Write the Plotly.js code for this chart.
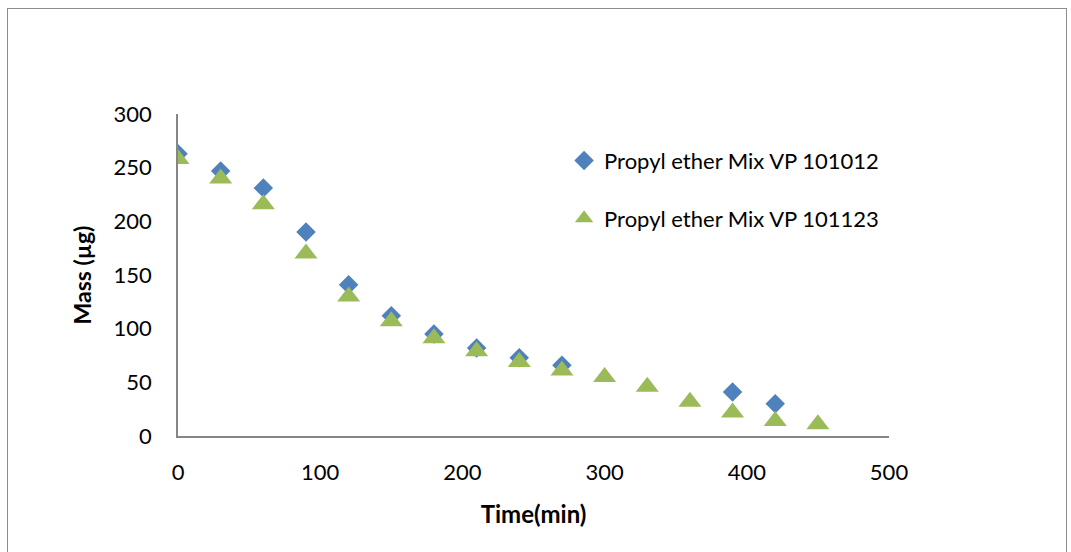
<!DOCTYPE html>
<html>
<head>
<meta charset="utf-8">
<script src="https://cdn.plot.ly/plotly-3.0.1.min.js"></script>
<style>
  body { margin: 0; background: #fff; }
  #frame { position: absolute; left: 7px; top: 8px; width: 1058px; height: 560px; border: 1px solid #8c8c8c; }
  #chart { position: absolute; left: 0; top: 0; width: 1071px; height: 552px; }
</style>
</head>
<body>
<div id="frame"></div>
<div id="chart"></div>
<script>
// time in minutes
const time1 = [0, 30, 60, 90, 120, 150, 180, 210, 240, 270, 390, 420];
const mass1 = [263, 247, 231, 190, 141, 112, 95, 82, 73, 66, 41, 30];

const time2 = [0, 30, 60, 90, 120, 150, 180, 210, 240, 270, 300, 330, 360, 390, 420, 450];
const mass2 = [258, 240, 216, 170, 130, 107, 91, 79, 69, 61, 55, 46, 32, 22, 14, 11];

const xTicks = [0, 100, 200, 300, 400, 500];
const yTicks = [0, 50, 100, 150, 200, 250, 300];

const font = 'Lato, "Open Sans", sans-serif';

Plotly.newPlot('chart', [{
  x: time1,
  y: mass1,
  name: 'Propyl ether Mix VP 101012',
  mode: 'markers',
  legendgroup: 'a',
  marker: {symbol: 'diamond', color: '#4F81BD', size: 15},
}, {
  x: time2,
  y: mass2,
  name: 'Propyl ether Mix VP 101123',
  mode: 'markers',
  legendgroup: 'b',
  marker: {symbol: 'triangle-up', color: '#9BBB59', size: 20},
}], {
  width: 1071,
  height: 552,
  margin: {l: 178, r: 182, t: 114, b: 116},
  paper_bgcolor: 'rgba(0,0,0,0)',
  plot_bgcolor: 'rgba(0,0,0,0)',
  font: {family: font, color: '#000'},
  xaxis: {
    range: [0, 500],
    tickvals: xTicks,
    ticks: '',
    ticklabelstandoff: 16,
    tickfont: {size: 22},
    showgrid: false,
    zeroline: false,
    showline: true,
    linecolor: '#868686',
    linewidth: 1.5,
    title: {text: '<b>Time(min)</b>', font: {size: 24}, standoff: 22},
  },
  yaxis: {
    range: [0, 300],
    tickvals: yTicks,
    ticks: '',
    ticklabelstandoff: 20,
    tickfont: {size: 22},
    showgrid: false,
    zeroline: false,
    showline: true,
    linecolor: '#868686',
    linewidth: 1.5,
    title: {text: '<b>Mass (µg)</b>', font: {size: 23}, standoff: 16},
  },
  showlegend: true,
  legend: {
    x: 0.543,
    y: 0.92,
    xanchor: 'left',
    yanchor: 'top',
    font: {size: 22},
    traceorder: 'grouped',
    tracegroupgap: 26,
    bgcolor: 'rgba(0,0,0,0)',
  },
}, {displayModeBar: false});
</script>
</body>
</html>
